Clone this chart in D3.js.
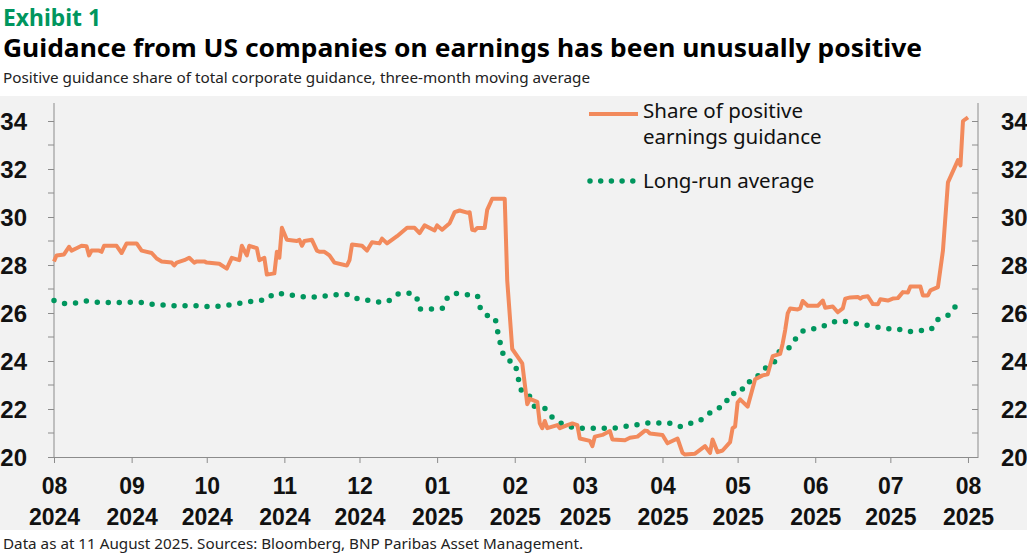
<!DOCTYPE html>
<html>
<head>
<meta charset="utf-8">
<script src="https://cdn.jsdelivr.net/npm/d3@7"></script>
<style>
  body { margin: 0; background: #fff; }
  svg { display: block; font-family: "Noto Sans", "DejaVu Sans", sans-serif; }
  .axis path, .axis line { stroke: #8c8c8c; }
  .axis text { font-weight: 600; fill: #111; }
  .x-axis text { font-size: 23px; }
  .y-axis text, .y-axis-right text { font-size: 24px; }
</style>
</head>
<body>
<svg id="chart"></svg>
<script>
// Share of positive earnings guidance (3m moving average), %
const shareSeries = [
  ["2024-08-01",28.15],["2024-08-02",28.4],["2024-08-05",28.44],["2024-08-07",28.76],["2024-08-08",28.6],
  ["2024-08-10",28.7],["2024-08-12",28.8],["2024-08-14",28.78],["2024-08-15",28.4],["2024-08-16",28.6],
  ["2024-08-19",28.6],["2024-08-20",28.55],["2024-08-21",28.8],["2024-08-26",28.8],["2024-08-28",28.5],
  ["2024-08-30",28.9],["2024-09-03",28.9],["2024-09-05",28.6],["2024-09-09",28.5],["2024-09-11",28.27],
  ["2024-09-13",28.15],["2024-09-17",28.1],["2024-09-18",27.98],["2024-09-19",28.1],["2024-09-22",28.2],
  ["2024-09-24",28.3],["2024-09-26",28.1],["2024-09-27",28.15],["2024-09-30",28.15],["2024-10-01",28.1],
  ["2024-10-06",28.05],["2024-10-09",27.85],["2024-10-11",28.3],["2024-10-14",28.2],["2024-10-15",28.8],
  ["2024-10-17",28.4],["2024-10-18",28.8],["2024-10-21",28.7],["2024-10-22",28.2],["2024-10-24",28.3],
  ["2024-10-25",27.6],["2024-10-28",27.65],["2024-10-29",28.55],["2024-10-30",28.3],["2024-10-31",29.55],
  ["2024-11-02",29.05],["2024-11-06",29.0],["2024-11-07",29.05],["2024-11-08",28.8],["2024-11-09",29.0],
  ["2024-11-12",29.05],["2024-11-14",28.6],["2024-11-15",28.55],["2024-11-17",28.55],["2024-11-19",28.4],
  ["2024-11-21",28.1],["2024-11-25",28.0],["2024-11-26",27.98],["2024-11-27",28.2],["2024-11-28",28.85],
  ["2024-12-02",28.8],["2024-12-04",28.6],["2024-12-06",28.95],["2024-12-09",28.9],["2024-12-10",29.1],
  ["2024-12-12",28.9],["2024-12-16",29.2],["2024-12-20",29.55],["2024-12-23",29.55],["2024-12-25",29.33],
  ["2024-12-27",29.65],["2024-12-31",29.44],["2025-01-01",29.65],["2025-01-03",29.47],["2025-01-06",29.74],
  ["2025-01-08",30.2],["2025-01-10",30.27],["2025-01-13",30.18],["2025-01-14",30.2],["2025-01-15",29.47],
  ["2025-01-16",29.44],["2025-01-17",29.54],["2025-01-20",29.54],["2025-01-21",30.3],["2025-01-23",30.76],
  ["2025-01-28",30.76],["2025-01-29",27.35],["2025-01-31",24.5],["2025-02-04",23.9],["2025-02-06",22.2],
  ["2025-02-07",22.42],["2025-02-10",22.3],["2025-02-11",21.4],["2025-02-12",21.2],["2025-02-13",21.5],
  ["2025-02-14",21.2],["2025-02-18",21.33],["2025-02-19",21.2],["2025-02-22",21.33],["2025-02-24",21.4],
  ["2025-02-26",21.33],["2025-02-27",20.77],["2025-03-03",20.67],["2025-03-04",20.45],["2025-03-05",20.85],
  ["2025-03-08",20.92],["2025-03-11",21.08],["2025-03-12",20.73],["2025-03-17",20.7],["2025-03-19",20.8],
  ["2025-03-22",20.85],["2025-03-25",21.1],["2025-03-26",21.08],["2025-03-27",20.98],["2025-04-01",20.92],
  ["2025-04-03",20.57],["2025-04-07",20.77],["2025-04-09",20.17],["2025-04-10",20.1],["2025-04-14",20.14],
  ["2025-04-18",20.45],["2025-04-20",20.17],["2025-04-21",20.73],["2025-04-23",20.2],["2025-04-25",20.27],
  ["2025-04-28",20.62],["2025-04-29",21.2],["2025-04-30",21.27],["2025-05-01",22.27],["2025-05-02",22.4],
  ["2025-05-05",22.1],["2025-05-08",23.24],["2025-05-11",23.4],["2025-05-13",23.45],["2025-05-15",24.2],
  ["2025-05-18",24.3],["2025-05-19",24.73],["2025-05-20",25.29],["2025-05-21",25.98],["2025-05-22",26.19],
  ["2025-05-25",26.15],["2025-05-26",26.19],["2025-05-27",26.5],["2025-05-29",26.3],["2025-06-02",26.3],
  ["2025-06-04",26.52],["2025-06-05",26.22],["2025-06-08",26.27],["2025-06-10",26.03],["2025-06-12",26.19],
  ["2025-06-13",26.6],["2025-06-15",26.65],["2025-06-18",26.67],["2025-06-19",26.6],["2025-06-20",26.67],
  ["2025-06-22",26.7],["2025-06-24",26.37],["2025-06-26",26.36],["2025-06-27",26.57],["2025-06-30",26.52],
  ["2025-07-02",26.6],["2025-07-04",26.62],["2025-07-06",26.87],["2025-07-08",26.85],["2025-07-09",27.1],
  ["2025-07-13",27.1],["2025-07-14",26.73],["2025-07-16",26.73],["2025-07-17",26.94],["2025-07-20",27.08],
  ["2025-07-22",28.6],["2025-07-24",31.44],["2025-07-28",32.37],["2025-07-29",32.15],["2025-07-30",34.0],
  ["2025-08-01",34.15]
];

// Long-run average, %
const averageSeries = [
  ["2024-08-01",26.52],["2024-08-05",26.4],["2024-08-10",26.42],["2024-08-14",26.5],["2024-08-19",26.44],
  ["2024-08-23",26.44],["2024-08-27",26.44],["2024-09-01",26.45],["2024-09-05",26.44],["2024-09-10",26.35],
  ["2024-09-14",26.33],["2024-09-19",26.3],["2024-09-23",26.3],["2024-09-28",26.3],["2024-10-02",26.27],
  ["2024-10-07",26.3],["2024-10-11",26.35],["2024-10-16",26.44],["2024-10-20",26.5],["2024-10-25",26.56],
  ["2024-10-28",26.8],["2024-11-01",26.8],["2024-11-06",26.7],["2024-11-10",26.67],["2024-11-14",26.67],
  ["2024-11-19",26.73],["2024-11-23",26.77],["2024-11-27",26.77],["2024-12-01",26.56],["2024-12-06",26.52],
  ["2024-12-10",26.44],["2024-12-14",26.58],["2024-12-17",26.81],["2024-12-22",26.82],["2024-12-24",26.58],
  ["2024-12-25",26.17],["2024-12-30",26.17],["2025-01-03",26.2],["2025-01-05",26.62],["2025-01-08",26.82],
  ["2025-01-12",26.77],["2025-01-17",26.72],["2025-01-18",26.27],["2025-01-21",25.9],["2025-01-24",25.8],
  ["2025-01-25",25.31],["2025-01-26",24.85],["2025-01-27",24.4],["2025-01-29",24.06],["2025-02-01",23.92],
  ["2025-02-02",23.46],["2025-02-03",23.02],["2025-02-04",22.7],["2025-02-07",22.52],["2025-02-09",22.1],
  ["2025-02-13",22.02],["2025-02-16",21.65],["2025-02-19",21.44],["2025-02-23",21.27],["2025-02-27",21.2],
  ["2025-03-03",21.2],["2025-03-08",21.2],["2025-03-12",21.2],["2025-03-17",21.27],["2025-03-21",21.33],
  ["2025-03-26",21.42],["2025-03-30",21.42],["2025-04-03",21.42],["2025-04-08",21.27],["2025-04-12",21.4],
  ["2025-04-16",21.52],["2025-04-19",21.77],["2025-04-22",21.98],["2025-04-26",22.2],["2025-04-28",22.63],
  ["2025-05-02",22.67],["2025-05-04",23.07],["2025-05-08",23.22],["2025-05-10",23.53],["2025-05-13",23.77],
  ["2025-05-16",24.0],["2025-05-18",24.44],["2025-05-22",24.58],["2025-05-24",24.9],["2025-05-27",25.24],
  ["2025-05-31",25.33],["2025-06-04",25.44],["2025-06-08",25.62],["2025-06-12",25.66],["2025-06-16",25.58],
  ["2025-06-21",25.5],["2025-06-25",25.43],["2025-06-29",25.35],["2025-07-04",25.33],["2025-07-08",25.22],
  ["2025-07-13",25.27],["2025-07-17",25.3],["2025-07-19",25.65],["2025-07-23",25.85],["2025-07-26",26.1],
  ["2025-07-28",26.52]
];

const yTicks = [20, 22, 24, 26, 28, 30, 32, 34];
const yMinorTicks = [21, 23, 25, 27, 29, 31, 33];
const xDomain = ["2024-08-01", "2025-08-05"];
const legendLabels = [["Share of positive", "earnings guidance"], ["Long-run average"]];

const titleText = "Exhibit 1";
const headlineText = "Guidance from US companies on earnings has been unusually positive";
const subtitleText = "Positive guidance share of total corporate guidance, three-month moving average";
const footerText = "Data as at 11 August 2025. Sources: Bloomberg, BNP Paribas Asset Management.";

const width = 1027, height = 556;
const margin = {top: 103, right: 49, bottom: 99, left: 54};
const orange = "#f28a5c", green = "#00965e";

const parseDate = d3.timeParse("%Y-%m-%d");
const share = shareSeries.map(d => ({date: parseDate(d[0]), value: d[1]}));
const average = averageSeries.map(d => ({date: parseDate(d[0]), value: d[1]}));

const svg = d3.select("#chart").attr("width", width).attr("height", height);

// grey panel
svg.append("rect")
  .attr("x", 0).attr("y", 96)
  .attr("width", width).attr("height", 434)
  .attr("fill", "#f2f2f2");

// titles
svg.append("text")
  .attr("x", 3).attr("y", 26)
  .attr("textLength", 98).attr("lengthAdjust", "spacingAndGlyphs")
  .style("font-size", "24px").style("font-weight", 700).style("fill", green)
  .text(titleText);

svg.append("text")
  .attr("x", 3).attr("y", 57)
  .attr("textLength", 919).attr("lengthAdjust", "spacingAndGlyphs")
  .style("font-size", "25px").style("font-weight", 700).style("fill", "#000")
  .text(headlineText);

svg.append("text")
  .attr("x", 3).attr("y", 83)
  .attr("textLength", 587).attr("lengthAdjust", "spacingAndGlyphs")
  .style("font-size", "15px").style("fill", "#222")
  .text(subtitleText);

svg.append("text")
  .attr("x", 3).attr("y", 549)
  .attr("textLength", 580).attr("lengthAdjust", "spacingAndGlyphs")
  .style("font-size", "15px").style("fill", "#222")
  .text(footerText);

// scales
const xScale = d3.scaleTime()
  .domain(xDomain.map(parseDate))
  .range([margin.left, width - margin.right]);

const yScale = d3.scaleLinear()
  .domain([20, 34.75])
  .range([height - margin.bottom, margin.top]);

// axes
const xAxisG = svg.append("g")
  .attr("class", "axis x-axis")
  .attr("transform", `translate(0,${yScale(20)})`)
  .call(d3.axisBottom(xScale).ticks(d3.timeMonth.every(1)).tickSize(6).tickSizeOuter(0).tickFormat(""));

xAxisG.selectAll(".tick").append("text")
  .attr("text-anchor", "middle")
  .attr("fill", "#111")
  .each(function(d) {
    const t = d3.select(this);
    t.append("tspan").attr("x", 0).attr("y", 37).text(d3.timeFormat("%m")(d));
    t.append("tspan").attr("x", 0).attr("y", 68).text(d3.timeFormat("%Y")(d));
  });

function drawY(g, axisFn, labelSide) {
  g.call(axisFn(yScale).tickValues(yTicks).tickSize(6).tickSizeOuter(0).tickPadding(labelSide));
  g.selectAll(".domain").attr("d", `M0,${yScale(20)}V${margin.top}`);
  g.selectAll(".minor").data(yMinorTicks).enter().append("line")
    .attr("class", "minor")
    .attr("x1", 0).attr("x2", -6)
    .attr("y1", d => yScale(d)).attr("y2", d => yScale(d));
  g.selectAll(".tick text").attr("dy", "0.36em");
}

const yLeftG = svg.append("g")
  .attr("class", "axis y-axis")
  .attr("transform", `translate(${margin.left},0)`);
drawY(yLeftG, d3.axisLeft, 21);

const yRightG = svg.append("g")
  .attr("class", "axis y-axis-right")
  .attr("transform", `translate(${width - margin.right},0)`);
drawY(yRightG, d3.axisRight, 22);
// right-hand ticks point inward
yRightG.selectAll(".tick line").attr("x2", -6);
yRightG.selectAll(".tick text").attr("x", 23);

// lines
const line = d3.line()
  .x(d => xScale(d.date))
  .y(d => yScale(d.value));

svg.append("path")
  .datum(average)
  .attr("fill", "none")
  .attr("stroke", green)
  .attr("stroke-width", 5.5)
  .attr("stroke-linecap", "round")
  .attr("stroke-dasharray", "0 11")
  .attr("d", line.curve(d3.curveMonotoneX));

svg.append("path")
  .datum(share)
  .attr("fill", "none")
  .attr("stroke", orange)
  .attr("stroke-width", 4)
  .attr("stroke-linejoin", "round")
  .attr("d", line.curve(d3.curveLinear));

// legend
const legend = svg.append("g").attr("transform", "translate(589,0)");

legend.append("line")
  .attr("x1", 0).attr("x2", 49).attr("y1", 114).attr("y2", 114)
  .attr("stroke", orange).attr("stroke-width", 4);

legend.append("line")
  .attr("x1", 1).attr("x2", 49).attr("y1", 181).attr("y2", 181)
  .attr("stroke", green).attr("stroke-width", 5.5)
  .attr("stroke-linecap", "round").attr("stroke-dasharray", "0 10.7");

const legendText = legend.append("text")
  .style("font-size", "20.5px").style("fill", "#111");
legendText.append("tspan").attr("x", 54).attr("y", 118).text(legendLabels[0][0]);
legendText.append("tspan").attr("x", 54).attr("y", 144).text(legendLabels[0][1]);

legend.append("text")
  .attr("x", 54).attr("y", 188)
  .style("font-size", "20.5px").style("fill", "#111")
  .text(legendLabels[1][0]);
</script>
</body>
</html>
